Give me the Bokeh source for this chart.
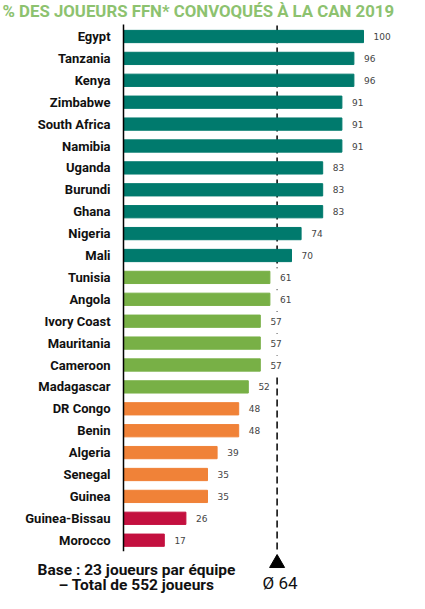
from bokeh.plotting import figure
from bokeh.models import Range1d, Label, ColumnDataSource
from bokeh.core.properties import value
from bokeh.embed import file_html
from bokeh.resources import INLINE

countries = ["Egypt", "Tanzania", "Kenya", "Zimbabwe", "South Africa", "Namibia",
             "Uganda", "Burundi", "Ghana", "Nigeria", "Mali", "Tunisia", "Angola",
             "Ivory Coast", "Mauritania", "Cameroon", "Madagascar", "DR Congo",
             "Benin", "Algeria", "Senegal", "Guinea", "Guinea-Bissau", "Morocco"]
percent = [100, 96, 96, 91, 91, 91, 83, 83, 83, 74, 70, 61, 61, 57, 57, 57, 52,
           48, 48, 39, 35, 35, 26, 17]
group = ["high"] * 11 + ["mid"] * 6 + ["low"] * 5 + ["vlow"] * 2
average = 64
title_text = "% DES JOUEURS FFN* CONVOQUÉS À LA CAN 2019"
note_lines = ["Base : 23 joueurs par équipe", "– Total de 552 joueurs"]
avg_label = "Ø 64"

palette = {"high": "#007a6d", "mid": "#78b046", "low": "#f08238", "vlow": "#c3103f"}

W, H = 409, 593
PX = 2.4      # pixels per percent
AX = 123      # axis x position in pixels
ROW = 21.9    # row spacing in pixels
TOP = 36      # first row centre in pixels

rows = list(range(len(countries)))
lbl = [str(v) for v in percent]
lx = [v + 4.2 for v in percent]
src = ColumnDataSource(dict(
    y=rows, v=percent, name=countries,
    color=[palette[g] for g in group],
    lbl=lbl, lx=lx,
    ml=[x - 2.0 for x in lx],
    mr=[x + len(s) * 2.6 + 0.8 for x, s in zip(lx, lbl)],
    mt=[r - 0.42 for r in rows],
    mb=[r + 0.42 for r in rows],
))

p = figure(width=W, height=H, output_backend="svg", toolbar_location=None,
           x_range=Range1d(-AX / PX, (W - AX) / PX),
           y_range=Range1d((H - TOP) / ROW, -TOP / ROW),
           min_border=0, outline_line_color=None)
p.axis.visible = False
p.grid.visible = False

# dashed average line
p.segment(x0=[average], x1=[average], y0=[-0.5], y1=[23.6],
          line_color="black", line_width=1.5, line_dash="7 4")
p.scatter(x=[average], y=[24.05], marker="triangle", size=15,
          fill_color="black", line_color="black")

# bars
p.hbar(y="y", left=0, right="v", height=0.56, color="color", source=src)

# axis line
p.segment(x0=[0], x1=[0], y0=[-0.55], y1=[23.5], line_color="black", line_width=1.5)

# country labels
p.text(x=-5.4, y="y", text="name", source=src, text_align="right",
       text_baseline="middle", text_font=value("Roboto"), text_font_style="bold",
       text_font_size="13px", text_color="#111111")

# white masks behind value labels, then value labels
p.quad(left="ml", right="mr", top="mt", bottom="mb", source=src,
       fill_color="white", line_color=None)
p.text(x="lx", y="y", text="lbl", source=src, text_align="left",
       text_baseline="middle", text_font=value("DejaVu Sans"),
       text_font_size="9px", text_color="#444444")

p.add_layout(Label(x=2, y=H - 10, x_units="screen", y_units="screen",
                   text=title_text, text_baseline="middle",
                   text_font="Roboto", text_font_style="bold",
                   text_font_size="16.8px", text_color="#8dc26f"))

p.add_layout(Label(x=136, y=H - 569, x_units="screen", y_units="screen",
                   text=note_lines[0], text_align="center", text_baseline="middle",
                   text_font="Roboto", text_font_style="bold",
                   text_font_size="15.5px", text_color="#111111"))
p.add_layout(Label(x=136, y=H - 584, x_units="screen", y_units="screen",
                   text=note_lines[1], text_align="center", text_baseline="middle",
                   text_font="Roboto", text_font_style="bold",
                   text_font_size="15.5px", text_color="#111111"))
p.add_layout(Label(x=average + 1.2, y=H - 582, x_units="data", y_units="screen",
                   text=avg_label, text_align="center", text_baseline="middle",
                   text_font="Roboto", text_font_size="17px", text_color="#111111"))

open("out.html", "w").write(file_html(p, INLINE))
